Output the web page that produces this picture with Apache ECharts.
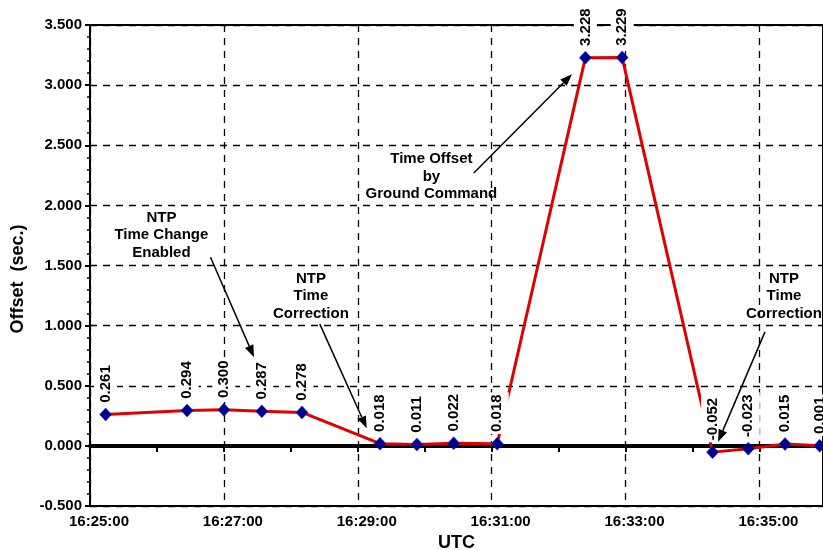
<!DOCTYPE html>
<html><head><meta charset="utf-8">
<script src="https://cdn.jsdelivr.net/npm/echarts@6/dist/echarts.min.js"></script>
<style>html,body{margin:0;padding:0;background:#fff}#c{width:823px;height:550px}</style>
</head><body><div id="c"></div>
<script>
// ---- data ----
const times = ['16:25:14','16:26:27','16:27:00','16:27:34','16:28:10','16:29:20','16:29:53','16:30:26','16:31:05','16:32:24','16:32:57','16:34:18','16:34:50','16:35:23','16:35:54'];
const offsets = [0.261,0.294,0.300,0.287,0.278,0.018,0.011,0.022,0.018,3.228,3.229,-0.052,-0.023,0.015,0.001];
const xTickLabels = ['16:25:00','16:27:00','16:29:00','16:31:00','16:33:00','16:35:00'];
const yTickLabels = ['-0.500','0.000','0.500','1.000','1.500','2.000','2.500','3.000','3.500'];
const axisStart = '16:25:00';
const axisEnd = '16:35:57';
const annTexts = [['NTP','Time Change','Enabled'],['NTP','Time','Correction'],['Time Offset','by','Ground Command'],['NTP','Time','Correction']];
const annTextAt = [['16:26:04',1.752],['16:28:18',1.245],['16:30:06',2.239],['16:35:22',1.245]];
const annArrowFrom = [['16:26:48',1.569],['16:28:26',1.012],['16:30:44',2.270],['16:35:05',0.948]];
const annArrowTo = [['16:27:27',0.738],['16:29:08',0.147],['16:32:12',3.091],['16:34:23',0.035]];

// ---- helpers ----
function sec(s){const p=s.split(':').map(Number);return p[0]*3600+p[1]*60+p[2];}
const t0 = sec(axisStart);
const rel = s => sec(s) - t0;
const FONT = '"Liberation Sans", Arial, sans-serif';
const dash = [7, 6];

const chart = echarts.init(document.getElementById('c'), null, {renderer:'canvas'});
const seriesData = times.map((t,i)=>[rel(t), offsets[i]]);
const xMax = rel(axisEnd);

chart.setOption({
  animation:false,
  backgroundColor:'#fff',
  grid:{left:90, right:0, top:25, bottom:44, containLabel:false, outerBoundsMode:'none',
    show:true, borderColor:'#000', borderWidth:2, backgroundColor:'transparent'},
  xAxis:[
    { // zero line with minute ticks
      type:'value', min:0, max:xMax, interval:60, position:'bottom',
      axisLine:{show:true, onZero:true, lineStyle:{color:'#000', width:4}},
      axisTick:{show:true, length:6, lineStyle:{color:'#000', width:2}},
      axisLabel:{show:false}, splitLine:{show:false}
    },
    { // bottom labels and vertical grid
      type:'value', min:0, max:xMax, interval:120, position:'bottom',
      axisLine:{show:true, onZero:false, lineStyle:{color:'#000', width:2}},
      axisTick:{show:false},
      axisLabel:{show:true, showMaxLabel:false, margin:8, color:'#000', fontFamily:FONT, fontWeight:'bold', fontSize:15,
        padding:[0,0,0,18],
        formatter:v=>{const k=v/120; return Number.isInteger(k)&&xTickLabels[k]?xTickLabels[k]:'';}},
      splitLine:{show:true, lineStyle:{color:'#000', width:1.3, type:dash}},
      name:'UTC', nameLocation:'middle', nameGap:27,
      nameTextStyle:{color:'#000', fontFamily:FONT, fontWeight:'bold', fontSize:18}
    }
  ],
  yAxis:{
    type:'value', min:-0.5, max:3.5, interval:0.5,
    axisLine:{show:true, onZero:false, lineStyle:{color:'#000', width:2}},
    axisTick:{show:true, length:5, lineStyle:{color:'#000', width:2}},
    minorTick:{show:true, splitNumber:5, length:3, lineStyle:{color:'#000', width:1.5}},
    axisLabel:{margin:8, color:'#000', fontFamily:FONT, fontWeight:'bold', fontSize:15,
      formatter:v=>yTickLabels[Math.round((v+0.5)/0.5)]},
    splitLine:{show:true, lineStyle:{color:'#000', width:1.3, type:dash}},
    name:'Offset  (sec.)', nameLocation:'middle', nameGap:63,
    nameTextStyle:{color:'#000', fontFamily:FONT, fontWeight:'bold', fontSize:18, padding:[0,27,0,0]}
  },
  series:[{
    type:'line', xAxisIndex:1, yAxisIndex:0, data:seriesData,
    lineStyle:{color:'#E00000', width:3},
    symbol:'diamond', symbolSize:[12,13],
    itemStyle:{color:'#000090', borderColor:'#2020B0', borderWidth:0.5},
    label:{show:true, position:'top', distance:3, rotate:90, align:'left', verticalAlign:'middle',
      formatter:p=>p.value[1].toFixed(3), color:'#000', fontFamily:FONT, fontWeight:'bold', fontSize:15,
      backgroundColor:'#fff', padding:[4,2]},
    z:3
  }]
});

// ---- annotations, anchored in data coordinates ----
const px = a => chart.convertToPixel({xAxisIndex:1, yAxisIndex:0}, [rel(a[0]), a[1]]);
const graphics = [];
annTexts.forEach((lines,i)=>{
  const c = px(annTextAt[i]);
  graphics.push({type:'text', x:c[0], y:c[1], z:100,
    style:{text:lines.join('\n'), fill:'#000', font:'bold 15px '+FONT, align:'center', verticalAlign:'middle', lineHeight:17.5}});
  const a = px(annArrowFrom[i]), b = px(annArrowTo[i]);
  const dx=b[0]-a[0], dy=b[1]-a[1], L=Math.hypot(dx,dy), ux=dx/L, uy=dy/L;
  const hl=12, hw=4.5;
  const bx=b[0]-ux*hl, by=b[1]-uy*hl;
  graphics.push({type:'line', z:100, shape:{x1:a[0], y1:a[1], x2:bx, y2:by}, style:{stroke:'#000', lineWidth:1.5}});
  graphics.push({type:'polygon', z:100, shape:{points:[[b[0],b[1]],[bx-uy*hw,by+ux*hw],[bx+uy*hw,by-ux*hw]]}, style:{fill:'#000'}});
});
chart.setOption({graphic:graphics});
</script>
</body></html>
